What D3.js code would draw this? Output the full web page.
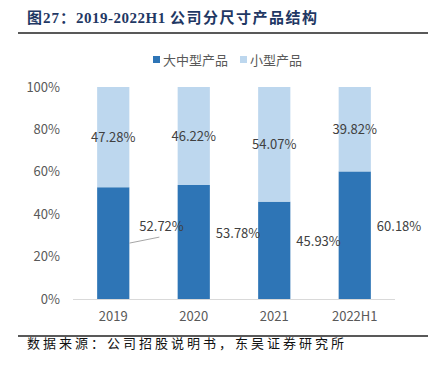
<!DOCTYPE html>
<html>
<head>
<meta charset="utf-8">
<script src="https://cdn.jsdelivr.net/npm/d3@7"></script>
<style>
  body { margin: 0; background: #fff; }
  text { font-family: "Noto Sans CJK SC", "Noto Sans", sans-serif; }
</style>
</head>
<body>
<div id="chart"></div>
<script>
// Data
var categories = ["2019", "2020", "2021", "2022H1"];
var largeShare = [52.72, 53.78, 45.93, 60.18];
var smallShare = [47.28, 46.22, 54.07, 39.82];
var yTicks = [0, 20, 40, 60, 80, 100];
var seriesNames = ["大中型产品", "小型产品"];

var w = 437, h = 368;
var darkBlue = "#2E75B6", lightBlue = "#BDD7EE", grey = "#595959";

var svg = d3.select("#chart").append("svg")
  .attr("width", w).attr("height", h);

// Title and rules
var title = svg.append("text")
  .attr("x", 27).attr("y", 23)
  .style("font-family", "'Liberation Serif', 'Noto Sans CJK SC', serif")
  .style("font-weight", "bold")
  .style("font-size", "15px")
  .attr("fill", "#1F3864");
title.append("tspan").style("letter-spacing", "1px").text("图27：");
title.append("tspan").style("letter-spacing", "0.5px").text("2019-2022H1 ");
title.append("tspan").style("letter-spacing", "1.5px").text("公司分尺寸产品结构");

svg.append("line").attr("x1", 18).attr("x2", 428).attr("y1", 33).attr("y2", 33)
  .attr("stroke", "#222").attr("stroke-width", 1.5);
svg.append("line").attr("x1", 18).attr("x2", 428).attr("y1", 336).attr("y2", 336)
  .attr("stroke", "#222").attr("stroke-width", 1.5);

svg.append("text")
  .attr("x", 27).attr("y", 348)
  .style("font-size", "13px")
  .style("letter-spacing", "3px")
  .attr("fill", "#111")
  .text("数据来源：公司招股说明书，东吴证券研究所");

// Scales
var xScale = d3.scaleBand().domain(categories).range([73, 395]).paddingInner(0.6).paddingOuter(0.3);
var yScale = d3.scaleLinear().domain([0, 100]).range([299, 87]);

// Y axis labels
svg.append("g").selectAll("text").data(yTicks).enter().append("text")
  .attr("x", 60).attr("y", function (d) { return yScale(d) + 4.5; })
  .attr("text-anchor", "end")
  .style("font-size", "13px")
  .attr("fill", grey)
  .text(function (d) { return d + "%"; });

// Bars
var rows = categories.map(function (c, i) {
  return { cat: c, large: largeShare[i], small: smallShare[i] };
});

svg.append("g").selectAll("rect").data(rows).enter().append("rect")
  .attr("x", function (d) { return xScale(d.cat); })
  .attr("width", xScale.bandwidth())
  .attr("y", function (d) { return yScale(d.large); })
  .attr("height", function (d) { return yScale(0) - yScale(d.large); })
  .attr("fill", darkBlue);

svg.append("g").selectAll("rect").data(rows).enter().append("rect")
  .attr("x", function (d) { return xScale(d.cat); })
  .attr("width", xScale.bandwidth())
  .attr("y", function (d) { return yScale(d.large + d.small); })
  .attr("height", function (d) { return yScale(d.large) - yScale(d.large + d.small); })
  .attr("fill", lightBlue);

// X axis line
svg.append("line").attr("x1", 73).attr("x2", 395)
  .attr("y1", yScale(0) + 0.5).attr("y2", yScale(0) + 0.5)
  .attr("stroke", "#D9D9D9").attr("stroke-width", 1);

svg.append("g").selectAll("text").data(categories).enter().append("text")
  .attr("x", function (d) { return xScale(d) + xScale.bandwidth() / 2; })
  .attr("y", 321)
  .attr("text-anchor", "middle")
  .style("font-size", "13px")
  .attr("fill", grey)
  .text(function (d) { return d; });

// Labels for the small-product segment (centred)
svg.append("g").selectAll("text").data(rows).enter().append("text")
  .attr("x", function (d) { return xScale(d.cat) + xScale.bandwidth() / 2; })
  .attr("y", function (d) { return yScale(d.large + d.small / 2) + 5; })
  .attr("text-anchor", "middle")
  .style("font-size", "13px")
  .attr("fill", "#404040")
  .text(function (d) { return d.small.toFixed(2) + "%"; });

// Labels for the large-product segment (to the right of the bar)
svg.append("g").selectAll("text").data(rows).enter().append("text")
  .attr("x", function (d, i) {
    return xScale(d.cat) + xScale.bandwidth() + (i === 0 ? 10 : 6);
  })
  .attr("y", function (d, i) {
    return yScale(d.large / 2) + (i === 0 ? -12 : -4);
  })
  .style("font-size", "13px")
  .attr("fill", "#404040")
  .text(function (d) { return d.large.toFixed(2) + "%"; });

// Leader line for first label
svg.append("line")
  .attr("x1", xScale(categories[0]) + xScale.bandwidth())
  .attr("y1", yScale(largeShare[0] / 2))
  .attr("x2", xScale(categories[0]) + xScale.bandwidth() + 30)
  .attr("y2", yScale(largeShare[0] / 2) - 6)
  .attr("stroke", "#A6A6A6").attr("stroke-width", 1);

// Legend
var legend = svg.append("g");
var legendItems = [
  { name: seriesNames[0], color: darkBlue, x: 153 },
  { name: seriesNames[1], color: lightBlue, x: 240 }
];
legendItems.forEach(function (it) {
  legend.append("rect").attr("x", it.x).attr("y", 56).attr("width", 7).attr("height", 7).attr("fill", it.color);
  legend.append("text").attr("x", it.x + 10).attr("y", 64.5)
    .style("font-size", "13px").attr("fill", grey).text(it.name);
});
</script>
</body>
</html>
